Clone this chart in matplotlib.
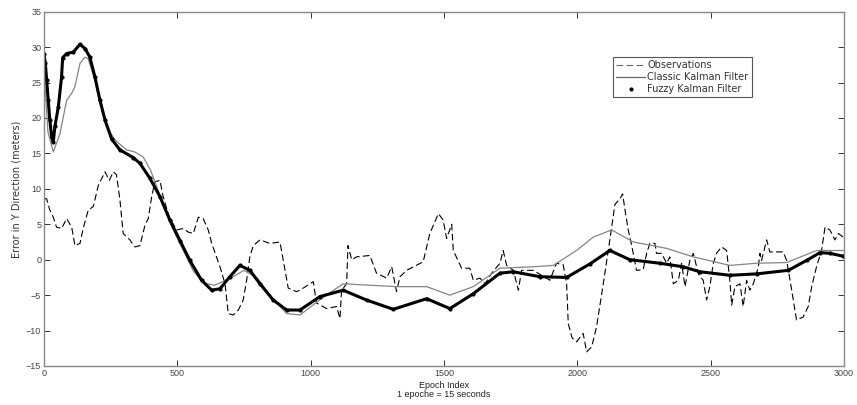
import matplotlib
matplotlib.use("Agg")
import matplotlib.pyplot as plt
from matplotlib.lines import Line2D

# Observations (dashed)
obs_x = [0, 10, 22, 35, 47, 66, 85, 104, 116, 135, 147, 166, 185, 204, 229, 245, 260, 272,
         285, 297, 322, 341, 360, 379, 391, 404, 416, 435, 447, 470, 497, 522, 541, 560,
         579, 597, 616, 629, 647, 660, 679, 691, 710, 729, 747, 760, 772, 785, 810, 847,
         885, 904, 916, 947, 960, 1010, 1022, 1060, 1097, 1110, 1116, 1135, 1140, 1154,
         1172, 1222, 1247, 1285, 1304, 1322, 1335, 1360, 1422, 1447, 1479, 1497, 1510,
         1529, 1535, 1566, 1597, 1610, 1635, 1654, 1679, 1710, 1722, 1735, 1760, 1779,
         1791, 1835, 1897, 1922, 1947, 1960, 1966, 1980, 1997, 2022, 2035, 2054, 2072,
         2097, 2122, 2141, 2160, 2170, 2179, 2191, 2204, 2222, 2247, 2260, 2272, 2291,
         2297, 2316, 2335, 2347, 2360, 2379, 2391, 2404, 2422, 2435, 2454, 2472, 2485,
         2497, 2510, 2522, 2541, 2560, 2572, 2579, 2591, 2610, 2622, 2635, 2647, 2660,
         2679, 2685, 2691, 2710, 2722, 2772, 2785, 2804, 2822, 2847, 2866, 2879, 2897,
         2916, 2929, 2947, 2966, 2979, 2997]
obs_y = [8.6, 8.6, 7.0, 6.0, 4.6, 4.4, 5.8, 4.6, 2.0, 2.3, 4.4, 7.0, 7.5, 10.5, 12.4, 11.2,
         12.4, 12.0, 8.4, 3.7, 2.8, 1.8, 2.0, 4.9, 5.8, 8.9, 11.0, 11.2, 8.9, 6.0, 4.2, 4.4,
         3.9, 3.7, 6.0, 5.8, 4.2, 2.3, 0.4, -1.0, -3.4, -7.6, -7.8, -7.1, -5.7, -2.9, 0.4,
         2.0, 2.8, 2.3, 2.5, -1.5, -4.0, -4.5, -4.3, -3.1, -6.1, -6.9, -6.6, -8.3, -4.3,
         -3.4, 2.0, 0.0, 0.4, 0.6, -1.9, -2.6, -1.0, -4.5, -2.4, -1.5, -0.3, 3.7, 6.5, 5.6,
         3.0, 5.0, 1.3, -1.2, -1.2, -2.9, -2.6, -3.4, -1.9, -0.5, 1.3, -0.8, -1.5, -4.3,
         -1.5, -1.5, -2.9, -0.5, -0.7, -3.4, -9.0, -11.0, -11.6, -10.4, -13.0, -12.3, -9.5,
         -3.5, 2.8, 7.8, 8.6, 9.3, 7.0, 4.2, 2.0, -1.5, -1.4, 0.9, 2.3, 2.3, 0.9, 0.9, -0.5,
         0.4, -3.4, -2.9, -0.5, -3.8, -0.1, 0.9, -2.0, -2.9, -5.7, -3.8, -0.5, 0.9, 1.8,
         1.3, -2.9, -6.4, -3.8, -3.4, -6.6, -2.9, -4.3, -3.4, -1.0, 0.9, -0.1, 2.8, 1.1,
         1.1, -0.1, -4.3, -8.5, -8.1, -6.6, -3.8, -1.0, 1.3, 4.6, 4.2, 2.8, 3.7, 3.2]

# Classic Kalman Filter (thin grey)
classic_x = [0, 15, 35, 60, 85, 104, 116, 135, 154, 165, 191, 210, 235, 266, 310, 341, 372,
             400, 440, 480, 520, 560, 600, 640, 700, 750, 800, 860, 910, 960, 1040, 1122,
             1322, 1435, 1522, 1610, 1710, 1835, 1910, 1997, 2060, 2129, 2210, 2335, 2435,
             2572, 2672, 2785, 2897, 2997]
classic_y = [27.0, 18.0, 15.2, 17.8, 22.5, 23.5, 24.4, 27.7, 28.6, 28.4, 25.4, 22.1, 18.8,
             16.9, 15.5, 15.2, 14.5, 12.6, 8.6, 4.6, 1.5, -1.6, -3.3, -3.6, -2.6, -1.5,
             -2.6, -5.6, -7.6, -7.8, -5.5, -3.4, -3.8, -3.8, -5.0, -3.8, -1.2, -1.0, -0.8,
             1.3, 3.2, 4.2, 2.5, 1.6, 0.4, -0.8, -0.5, -0.4, 1.3, 1.3]

# Fuzzy Kalman Filter (thick dots)
fuzzy_x = [0, 5, 10, 16, 22, 29, 35, 41, 54, 66, 70, 85, 110, 135, 154, 172, 191, 210, 229,
           254, 285, 335, 360, 397, 435, 472, 510, 547, 591, 629, 660, 697, 735, 772, 810,
           860, 910, 960, 1035, 1122, 1210, 1310, 1435, 1522, 1610, 1710, 1760, 1860, 1960,
           2047, 2122, 2197, 2310, 2397, 2460, 2572, 2672, 2791, 2860, 2910, 2947, 2997]
fuzzy_y = [29.0, 27.8, 25.4, 22.5, 19.7, 17.3, 16.6, 18.8, 21.6, 25.8, 28.5, 29.1, 29.3,
           30.4, 29.8, 28.6, 25.8, 22.5, 19.7, 17.0, 15.5, 14.4, 13.6, 11.5, 8.9, 5.6, 2.7,
           -0.1, -2.9, -4.3, -4.1, -2.4, -0.8, -1.5, -3.4, -5.7, -7.1, -7.1, -5.2, -4.3,
           -5.7, -7.0, -5.5, -6.9, -4.8, -1.9, -1.7, -2.4, -2.5, -0.6, 1.3, 0.0, -0.5, -1.0,
           -1.7, -2.2, -2.0, -1.5, -0.1, 1.0, 0.9, 0.5]

narrow = ['Liberation Sans Narrow', 'Liberation Sans', 'DejaVu Sans']

fig = plt.figure(figsize=(8.57, 4.05), dpi=100)
ax = fig.add_axes([0.0513, 0.0963, 0.9335, 0.8748])

ax.plot(obs_x, obs_y, color='black', linewidth=0.8, dashes=(6, 3))
ax.plot(classic_x, classic_y, color='#858585', linewidth=0.9)
ax.plot(fuzzy_x, fuzzy_y, color='black', linewidth=2.2, marker='.', markersize=4)

ax.set_xlim(0, 3000)
ax.set_ylim(-15, 35)
ax.set_xticks(range(0, 3001, 500))
ax.set_yticks(range(-15, 36, 5))
ax.tick_params(direction='in', top=True, right=True, length=4, width=0.7,
               labelsize=6.5, pad=2, colors='#333333', labelcolor='#444444')
for lab in ax.get_xticklabels() + ax.get_yticklabels():
    lab.set_family(narrow)
for s in ax.spines.values():
    s.set_linewidth(1.0)
    s.set_color('#888888')

ax.set_xlabel('Epoch Index\n1 epoche = 15 seconds', fontsize=6.5, family=narrow,
              labelpad=2, linespacing=1.1, color='#222222')
ax.set_ylabel('Error in Y Direction (meters)', fontsize=7, labelpad=3, color='#333333')

handles = [Line2D([], [], color='#666666', linewidth=0.8, dashes=(6, 3)),
           Line2D([], [], color='#666666', linewidth=0.9),
           Line2D([], [], color='black', linestyle='none', marker='.', markersize=4)]
leg = ax.legend(handles, ['Observations', 'Classic Kalman Filter', 'Fuzzy Kalman Filter'],
                loc='upper left', bbox_to_anchor=(0.711, 0.873), fontsize=7,
                fancybox=False, edgecolor='#555555', framealpha=1, handlelength=3.0,
                handletextpad=0.2, borderpad=0.35, labelspacing=0.2, borderaxespad=0)
leg.get_frame().set_linewidth(0.8)
for t in leg.get_texts():
    t.set_color('#333333')

fig.savefig('out.png', dpi=100)
